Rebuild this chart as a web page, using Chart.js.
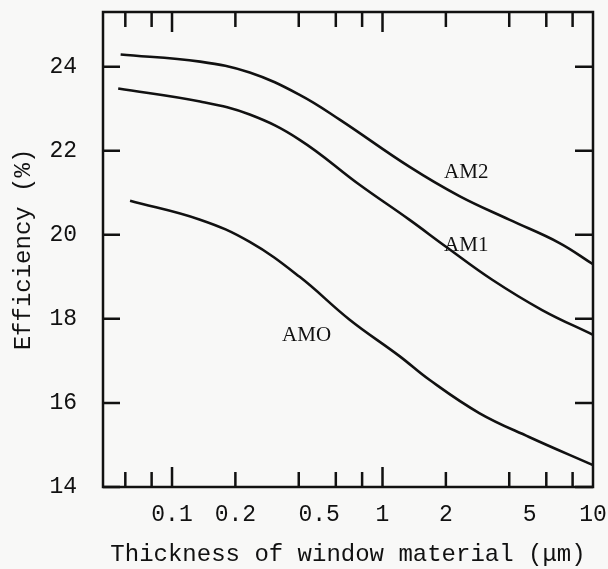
<!DOCTYPE html>
<html><head><meta charset="utf-8">
<script src="https://cdn.jsdelivr.net/npm/chart.js@4"></script>
<style>html,body{margin:0;padding:0;background:#f8f8f7;}#wrap{width:608px;height:569px;}</style>
</head><body><div id="wrap"><canvas id="c" width="608" height="569"></canvas></div>
<script>
// Data (thickness in µm, efficiency in %)
const am2X = [0.057, 0.136, 0.234, 0.404, 0.626, 1.34, 2.32, 4.0, 6.9, 10];
const am2Y = [24.29, 24.12, 23.86, 23.33, 22.74, 21.62, 20.92, 20.36, 19.81, 19.30];
const am1X = [0.0555, 0.136, 0.234, 0.404, 0.778, 1.34, 2.01, 3.32, 5.73, 10];
const am1Y = [23.48, 23.17, 22.86, 22.26, 21.19, 20.36, 19.71, 18.93, 18.21, 17.62];
const am0X = [0.0632, 0.136, 0.234, 0.404, 0.698, 1.20, 1.67, 2.88, 4.97, 10];
const am0Y = [20.81, 20.36, 19.83, 19.00, 17.98, 17.12, 16.55, 15.76, 15.19, 14.52];

const seriesNames = ['AM2', 'AM1', 'AMO'];
const xTickLabels = [0.1, 0.2, 0.5, 1, 2, 5, 10];
const xMajorMarks = [0.1, 1];
const xMinorMarks = [0.06, 0.08, 0.2, 0.4, 0.6, 0.8, 2, 4, 6, 8];
const yTicks = [14, 16, 18, 20, 22, 24];
const labelX = [2.5, 2.5, 0.436];
const labelY = [21.48, 19.74, 17.6];

const INK = '#111';
const MONO = '"Liberation Mono", "DejaVu Sans Mono", monospace';
const SERIF = '"Liberation Serif", "DejaVu Serif", serif';

function pts(xs, ys) { return xs.map((x, i) => ({x: x, y: ys[i]})); }
function zeroPad(s) { s.paddingTop = 0; s.paddingBottom = 0; s.paddingLeft = 0; s.paddingRight = 0; }

const framePlugin = {
  id: 'frame',
  beforeDraw(chart) {
    const ctx = chart.ctx;
    ctx.save();
    ctx.fillStyle = '#f8f8f7';
    ctx.fillRect(0, 0, chart.width, chart.height);
    ctx.restore();
  },
  afterDraw(chart) {
    const ctx = chart.ctx, a = chart.chartArea;
    const xs = chart.scales.x, ys = chart.scales.y;
    ctx.save();
    ctx.strokeStyle = INK;
    ctx.lineWidth = 2.5;
    ctx.strokeRect(a.left, a.top, a.right - a.left, a.bottom - a.top);
    ctx.beginPath();
    const mark = (v, len) => {
      const px = xs.getPixelForValue(v);
      ctx.moveTo(px, a.bottom); ctx.lineTo(px, a.bottom - len);
      ctx.moveTo(px, a.top); ctx.lineTo(px, a.top + len);
    };
    xMajorMarks.forEach(v => mark(v, 20));
    xMinorMarks.forEach(v => mark(v, 15));
    yTicks.forEach(v => {
      const py = ys.getPixelForValue(v);
      ctx.moveTo(a.left, py); ctx.lineTo(a.left + 17, py);
      ctx.moveTo(a.right, py); ctx.lineTo(a.right - 18, py);
    });
    ctx.stroke();
    ctx.fillStyle = INK;
    ctx.font = '21px ' + SERIF;
    ctx.textAlign = 'center';
    ctx.textBaseline = 'middle';
    seriesNames.forEach((n, i) => {
      ctx.fillText(n, xs.getPixelForValue(labelX[i]), ys.getPixelForValue(labelY[i]));
    });
    ctx.restore();
  }
};

const line = (name, data) => ({
  label: name, data: data, borderColor: INK, borderWidth: 2.6,
  pointRadius: 0, fill: false, tension: 0.4
});

new Chart(document.getElementById('c'), {
  type: 'line',
  data: { datasets: [
    line(seriesNames[0], pts(am2X, am2Y)),
    line(seriesNames[1], pts(am1X, am1Y)),
    line(seriesNames[2], pts(am0X, am0Y))
  ]},
  options: {
    responsive: false, animation: false,
    layout: { padding: { left: 9, right: 15, top: 12, bottom: 0 } },
    plugins: { legend: { display: false }, tooltip: { enabled: false } },
    scales: {
      x: {
        type: 'logarithmic', min: 0.047, max: 10,
        grid: { display: false, drawTicks: false }, border: { display: false },
        afterBuildTicks: s => { s.ticks = xTickLabels.map(v => ({value: v})); },
        afterFit: s => { s.height = 82; zeroPad(s); },
        ticks: { autoSkip: false, maxRotation: 0, padding: 14, color: INK,
          font: { family: MONO, size: 23 }, callback: v => String(v) },
        title: { display: true, text: 'Thickness of window material (\u03bcm)', color: INK,
          font: { family: MONO, size: 24 }, padding: { top: 0, bottom: 0 } }
      },
      y: {
        min: 14, max: 25.3,
        grid: { display: false, drawTicks: false }, border: { display: false },
        afterBuildTicks: s => { s.ticks = yTicks.map(v => ({value: v})); },
        afterFit: s => { s.width = 94; zeroPad(s); },
        ticks: { padding: 26, color: INK, font: { family: MONO, size: 23 } },
        title: { display: true, text: 'Efficiency (%)', color: INK,
          font: { family: MONO, size: 24 }, padding: 0 }
      }
    }
  },
  plugins: [framePlugin]
});
</script></body></html>
